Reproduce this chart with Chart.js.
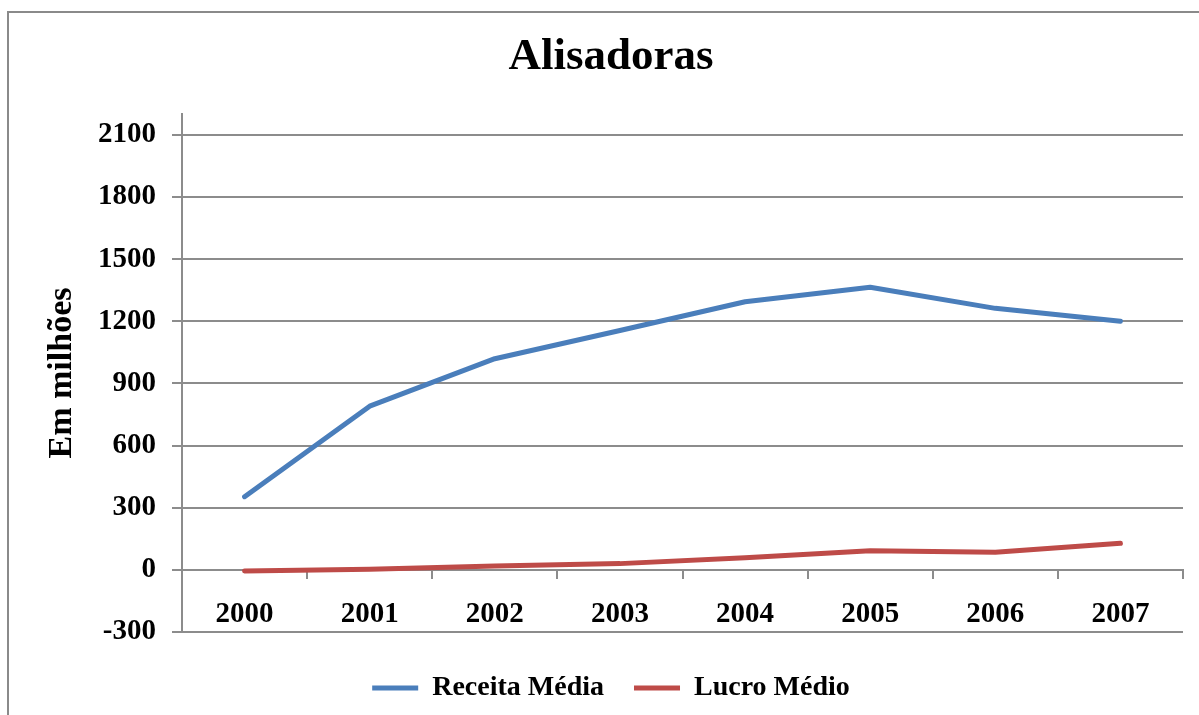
<!DOCTYPE html>
<html>
<head>
<meta charset="utf-8">
<script src="https://cdn.jsdelivr.net/npm/chart.js@4/dist/chart.umd.min.js"></script>
<style>
    html, body { margin: 0; padding: 0; background: #fff; overflow: hidden; }
    #frame {
        position: absolute; left: 7px; top: 11px;
        width: 1230px; height: 740px;
        border: 2px solid #8a8a8a;
    }
    #wrap { position: absolute; left: 0; top: 0; width: 1222px; height: 715px; }
</style>
</head>
<body>
<div id="frame"></div>
<div id="wrap"><canvas id="chart"></canvas></div>
<script>
    // Série anual
    const anos = ['2000', '2001', '2002', '2003', '2004', '2005', '2006', '2007'];
    const receitaMedia = [353, 790, 1019, 1155, 1294, 1364, 1262, 1200];
    const lucroMedio = [-5, 3, 18, 30, 58, 92, 85, 128];
    const yTicks = [-300, 0, 300, 600, 900, 1200, 1500, 1800, 2100];

    const FONT = '"Liberation Serif", "Times New Roman", serif';
    const GRID = '#8c8c8c';

    const ctx = document.getElementById('chart');
    ctx.chart = new Chart(ctx, {
        type: 'line',
        data: {
            labels: anos,
            datasets: [
                {
                    label: 'Receita Média',
                    data: receitaMedia,
                    borderColor: '#4a7ebb',
                    backgroundColor: '#4a7ebb',
                    borderWidth: 5,
                    borderCapStyle: 'round',
                    borderJoinStyle: 'round',
                    pointRadius: 0,
                    tension: 0
                },
                {
                    label: 'Lucro Médio',
                    data: lucroMedio,
                    borderColor: '#be4b48',
                    backgroundColor: '#be4b48',
                    borderWidth: 5,
                    borderCapStyle: 'round',
                    borderJoinStyle: 'round',
                    pointRadius: 0,
                    tension: 0
                }
            ]
        },
        options: {
            responsive: true,
            maintainAspectRatio: false,
            animation: false,
            layout: { padding: { left: 0, right: 0, top: 0, bottom: 3 } },
            plugins: {
                title: {
                    display: true,
                    text: 'Alisadoras',
                    color: '#000',
                    font: { family: FONT, size: 45, weight: 'bold' },
                    padding: { top: 30, bottom: 30 }
                },
                legend: {
                    position: 'bottom',
                    // empty title only adds a little room above the items
                    title: {
                        display: true,
                        text: '',
                        padding: 0,
                        font: { size: 12, lineHeight: 1 }
                    },
                    labels: {
                        color: '#000',
                        font: { family: FONT, size: 28, weight: 'bold' },
                        usePointStyle: true,
                        pointStyle: 'line',
                        pointStyleWidth: 46,
                        padding: 30
                    }
                },
                tooltip: { enabled: false }
            },
            scales: {
                x: {
                    position: { y: 0 },
                    offset: true,
                    grid: {
                        drawOnChartArea: false,
                        drawTicks: true,
                        tickLength: 8,
                        offset: true,
                        color: GRID,
                        lineWidth: 2
                    },
                    border: { color: GRID, width: 2 },
                    ticks: {
                        color: '#000',
                        font: { family: FONT, size: 29, weight: 'bold' },
                        padding: 19,
                        maxRotation: 0
                    },
                    // axis is drawn on the zero line
                    afterFit: (scale) => { scale.height = 0; }
                },
                y: {
                    position: 'left',
                    min: -300,
                    max: 2200,
                    afterBuildTicks: (scale) => {
                        scale.ticks = yTicks.map(v => ({ value: v }));
                    },
                    grid: {
                        color: GRID,
                        lineWidth: 2,
                        drawTicks: true,
                        tickLength: 10
                    },
                    border: { color: GRID, width: 2 },
                    ticks: {
                        color: '#000',
                        font: { family: FONT, size: 29, weight: 'bold' },
                        padding: 16,
                        callback: (v) => String(v)
                    },
                    title: {
                        display: true,
                        text: 'Em milhões',
                        color: '#000',
                        font: { family: FONT, size: 34, weight: 'bold' },
                        padding: { top: 42, bottom: 0 }
                    },
                    afterFit: (scale) => { scale.width = 182; }
                },
                // empty right axis keeps the plot clear of the right edge
                yRight: {
                    position: 'right',
                    display: true,
                    grid: { display: false },
                    border: { display: false },
                    ticks: { display: false },
                    afterFit: (scale) => { scale.width = 39; }
                }
            }
        }
    });
</script>
</body>
</html>
